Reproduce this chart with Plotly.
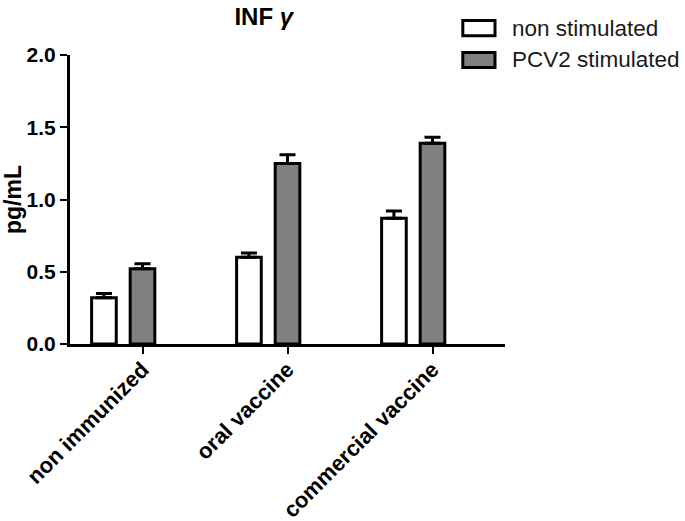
import plotly.graph_objects as go

categories = ["non immunized", "oral vaccine", "commercial vaccine"]
series_names = ["non stimulated", "PCV2 stimulated"]
non_stim = [0.32, 0.60, 0.87]
non_stim_err = [0.03, 0.03, 0.05]
pcv2_stim = [0.52, 1.25, 1.39]
pcv2_stim_err = [0.035, 0.06, 0.04]
y_ticks = [0.0, 0.5, 1.0, 1.5, 2.0]

FONT = "Liberation Sans, Arial, sans-serif"
fill_colors = ["#ffffff", "#808080"]

fig = go.Figure()
fig.add_trace(go.Bar(
    x=categories, y=non_stim, name=series_names[0],
    width=0.17, offset=-0.351,
    marker=dict(color=fill_colors[0], line=dict(color="black", width=3)),
    error_y=dict(type="data", array=non_stim_err, arrayminus=[0] * 3, symmetric=False,
                 color="black", thickness=3, width=8),
    showlegend=False,
))
fig.add_trace(go.Bar(
    x=categories, y=pcv2_stim, name=series_names[1],
    width=0.17, offset=-0.085,
    marker=dict(color=fill_colors[1], line=dict(color="black", width=3)),
    error_y=dict(type="data", array=pcv2_stim_err, arrayminus=[0] * 3, symmetric=False,
                 color="black", thickness=3, width=8),
    showlegend=False,
))

# manual legend (wide rectangular swatches like the original)
legend_rows = [(1.093, 0), (0.983, 1)]
for yc, i in legend_rows:
    fig.add_shape(type="rect", xref="paper", yref="paper",
                  x0=0.903, x1=0.977, y0=yc - 0.026, y1=yc + 0.026,
                  fillcolor=fill_colors[i], line=dict(color="black", width=3))
    fig.add_annotation(xref="paper", yref="paper", x=1.012, y=yc,
                       text=series_names[i], showarrow=False,
                       xanchor="left", yanchor="middle",
                       font=dict(family=FONT, size=22.5, color="#1a1a1a"))

fig.update_layout(
    width=685, height=521,
    margin=dict(l=70, r=180, t=55, b=177, autoexpand=False),
    paper_bgcolor="white", plot_bgcolor="white",
    barmode="overlay",
    title=dict(text="INF <i>γ</i>", x=0.385, xanchor="center", y=0.969, yanchor="middle",
               font=dict(family=FONT, size=24, color="black", weight="bold")),
    font=dict(family=FONT, color="black"),
)
fig.update_xaxes(
    range=[-0.5, 2.5], showline=True, linecolor="black", linewidth=3,
    ticks="outside", ticklen=7, tickwidth=2, tickcolor="black",
    tickangle=-45, showgrid=False, zeroline=False, ticklabelstandoff=-6,
    tickfont=dict(family=FONT, size=22, color="black", weight="bold"),
)
fig.update_yaxes(
    range=[0, 2.0], tickvals=y_ticks, tickformat=".1f",
    showline=True, linecolor="black", linewidth=3,
    ticks="outside", ticklen=7, tickwidth=2, tickcolor="black",
    showgrid=False, zeroline=False,
    tickfont=dict(family=FONT, size=21, color="black", weight="bold"),
    title=dict(text="pg/mL", standoff=9,
               font=dict(family=FONT, size=23, color="black", weight="bold")),
)

fig.write_html("out.html", config={"displayModeBar": False},
               post_script="document.body.style.margin='0';")
